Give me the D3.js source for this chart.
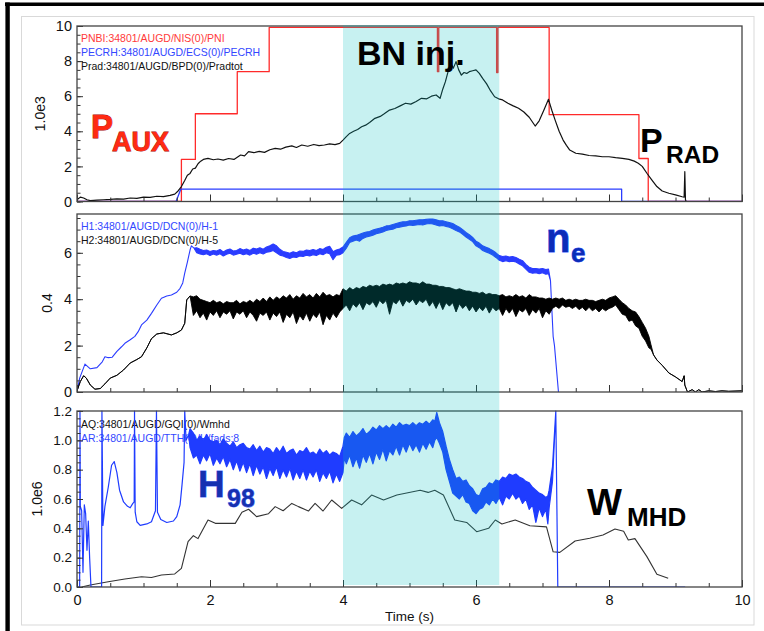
<!DOCTYPE html>
<html>
<head>
<meta charset="utf-8">
<script src="https://cdnjs.cloudflare.com/ajax/libs/d3/7.8.5/d3.min.js"></script>
<style>
  body { margin: 0; background: #fff; }
  svg { display: block; font-family: "Liberation Sans", Arial, Helvetica, sans-serif; }
</style>
</head>
<body>
<div id="chart"></div>
<script>
// time axis
var timeDomain = [0, 10];
var xTicks = [0, 2, 4, 6, 8, 10];
var bnWindow = [4.0, 6.35];

// panel 1 (1.0e3)
var p1Ticks = [0, 2, 4, 6, 8, 10];
var pnbi = [[0,0],[1.57,2.4],[1.78,5.0],[2.41,7.4],[2.89,9.92],[5.42,7.4],[5.44,9.92],[6.31,7.35],[6.33,9.92],[7.10,4.95],[8.45,2.45],[8.59,0],[10,0]];
var pecrh = [[0,0],[1.49,0],[1.56,0.7],[8.19,0.7],[8.19,0],[10,0]];
var prad = [[0,0.1],[0.05,0.25],[0.1,0.2],[0.15,0.1],[0.2,0.05],[0.3,0.08],[0.4,0.1],[0.5,0.12],[0.6,0.15],[0.7,0.14],[0.8,0.2],[0.9,0.18],[1.0,0.25],[1.1,0.24],[1.2,0.3],[1.3,0.28],[1.4,0.35],[1.47,0.42],[1.52,0.6],[1.57,0.85],[1.62,1.2],[1.66,1.5],[1.7,1.6],[1.74,1.85],[1.78,1.9],[1.82,2.15],[1.86,2.3],[1.9,2.4],[1.97,2.46],[2.05,2.38],[2.12,2.42],[2.2,2.36],[2.28,2.45],[2.36,2.4],[2.46,2.65],[2.52,2.6],[2.58,2.84],[2.66,2.78],[2.74,2.86],[2.82,2.8],[2.9,2.95],[2.98,3.03],[3.06,2.98],[3.14,3.1],[3.23,3.17],[3.3,3.08],[3.38,3.22],[3.47,3.15],[3.56,3.25],[3.64,3.18],[3.72,3.22],[3.8,3.28],[3.88,3.24],[3.95,3.31],[4.0,3.5],[4.05,3.7],[4.1,3.88],[4.16,4.0],[4.22,4.1],[4.28,4.26],[4.34,4.35],[4.4,4.5],[4.48,4.74],[4.56,4.85],[4.62,5.0],[4.7,5.21],[4.78,5.3],[4.86,5.45],[4.94,5.6],[5.02,5.55],[5.1,5.7],[5.18,5.88],[5.26,5.85],[5.33,6.0],[5.4,6.07],[5.46,5.88],[5.5,6.4],[5.54,6.83],[5.58,7.4],[5.62,7.87],[5.66,7.6],[5.7,7.97],[5.74,7.5],[5.78,7.2],[5.82,7.35],[5.86,7.3],[5.9,7.4],[5.95,7.45],[6.0,7.5],[6.05,7.3],[6.1,7.02],[6.16,6.7],[6.22,6.3],[6.28,5.97],[6.34,5.85],[6.4,5.79],[6.48,5.6],[6.56,5.45],[6.64,5.31],[6.72,5.1],[6.8,4.8],[6.89,4.3],[6.95,4.6],[7.02,5.2],[7.09,5.82],[7.14,5.2],[7.19,4.64],[7.25,4.0],[7.31,3.5],[7.36,3.2],[7.41,2.93],[7.5,2.75],[7.6,2.7],[7.7,2.62],[7.8,2.6],[7.9,2.55],[8.0,2.55],[8.1,2.5],[8.2,2.46],[8.3,2.4],[8.38,2.3],[8.44,2.18],[8.5,2.0],[8.57,1.61],[8.64,1.25],[8.72,0.85],[8.8,0.6],[8.9,0.47],[9.0,0.38],[9.1,0.27],[9.13,0.25],[9.14,1.7],[9.15,0.1],[9.16,0]];

// panel 2 (0.4) - [t, value] or [t, low, high] where the trace is noisy
var p2Ticks = [0, 2, 4, 6];
var h1 = [[0,0],[0.04,0.6],[0.12,1.2],[0.2,1.0],[0.3,1.05],[0.38,1.3],[0.42,1.52],[0.47,1.48],[0.53,1.5],[0.6,1.75],[0.67,1.95],[0.72,2.1],[0.8,2.25],[0.87,2.4],[0.92,2.6],[0.97,2.89],[1.05,3.1],[1.12,3.39],[1.2,3.75],[1.27,4.04],[1.35,4.14],[1.42,4.18],[1.5,4.3],[1.55,4.47],[1.59,4.7],[1.62,5.12],[1.66,5.6],[1.7,6.12],[1.72,6.3],[1.76,6.2],
  [1.8,6.0,6.22],[1.85,5.95,6.15],[1.9,5.92,6.1],[1.95,5.96,6.12],[2.0,5.88,6.06],[2.05,5.95,6.1],[2.1,5.9,6.08],[2.15,5.96,6.14],[2.2,5.86,6.04],[2.25,5.94,6.12],[2.3,5.98,6.16],[2.35,5.9,6.08],[2.4,5.94,6.1],[2.45,5.98,6.18],[2.5,5.92,6.12],[2.55,5.96,6.16],[2.6,5.9,6.1],[2.65,5.98,6.2],[2.7,5.94,6.16],[2.75,6.0,6.22],[2.8,5.95,6.15],[2.85,6.02,6.25],[2.9,6.05,6.3],[2.95,6.1,6.38],[3.0,6.0,6.3],[3.05,5.9,6.15],[3.1,5.86,6.06],[3.15,5.8,6.02],[3.2,5.76,5.98],[3.25,5.82,6.04],[3.3,5.8,6.0],[3.35,5.86,6.08],[3.4,5.84,6.06],[3.45,5.9,6.12],[3.5,5.86,6.1],[3.55,5.92,6.14],[3.6,5.88,6.1],[3.65,5.96,6.18],[3.7,5.92,6.14],[3.75,6.0,6.24],[3.8,5.96,6.28],[3.85,5.7,6.05],[3.9,5.9,6.12],[3.95,5.92,6.16],[4.0,6.0,6.25],[4.05,6.2,6.45],[4.1,6.45,6.65],[4.15,6.5,6.72],[4.2,6.55,6.75],[4.25,6.5,6.8],[4.3,6.62,6.85],[4.35,6.68,6.9],[4.4,6.72,6.92],[4.45,6.76,6.98],[4.5,6.82,7.02],[4.55,6.86,7.06],[4.6,6.9,7.1],[4.65,6.96,7.16],[4.7,7.0,7.18],[4.75,7.02,7.22],[4.8,7.08,7.26],[4.85,7.1,7.3],[4.9,7.14,7.34],[4.95,7.16,7.34],[5.0,7.2,7.38],[5.05,7.18,7.38],[5.1,7.2,7.4],[5.15,7.22,7.42],[5.2,7.2,7.42],[5.25,7.24,7.44],[5.3,7.26,7.46],[5.35,7.24,7.46],[5.4,7.2,7.42],[5.45,7.16,7.38],[5.5,7.18,7.38],[5.55,7.14,7.34],[5.6,7.1,7.3],[5.65,7.04,7.26],[5.7,6.96,7.18],[5.75,6.9,7.1],[5.8,6.8,7.0],[5.85,6.68,6.88],[5.9,6.58,6.78],[5.95,6.48,6.66],[6.0,6.3,6.5],[6.05,6.22,6.42],[6.1,6.1,6.3],[6.15,6.04,6.24],[6.2,5.98,6.18],[6.25,5.9,6.1],[6.3,5.8,6.0],[6.35,5.68,5.88],[6.4,5.62,5.84],[6.45,5.66,5.86],[6.5,5.62,5.82],[6.55,5.64,5.84],[6.6,5.6,5.8],[6.65,5.52,5.72],[6.7,5.44,5.66],[6.75,5.3,5.5],[6.8,5.16,5.38],[6.85,5.12,5.32],[6.9,5.14,5.32],[6.95,5.1,5.3],[7.0,5.14,5.32],[7.05,5.08,5.28],[7.09,5.1,5.3],
  [7.12,4.8],[7.16,2.4],[7.18,2.0],[7.24,0]];
var h5 = [[0,0.05],[0.05,0.45],[0.1,0.7],[0.14,0.6],[0.2,0.3],[0.27,0.12],[0.35,0.15],[0.42,0.35],[0.5,0.6],[0.6,0.72],[0.7,0.95],[0.8,1.25],[0.9,1.4],[0.97,1.52],[1.05,1.9],[1.12,2.3],[1.2,2.5],[1.3,2.55],[1.42,2.46],[1.5,2.55],[1.57,2.67],[1.62,2.96],[1.65,3.97],[1.7,4.14],
  [1.75,3.3,4.1],[1.8,3.5,4.15],[1.85,3.2,4.0],[1.9,3.4,3.95],[1.95,3.1,3.9],[2.0,3.45,3.85],[2.05,3.3,3.95],[2.1,3.5,3.85],[2.15,3.2,3.9],[2.2,3.45,3.8],[2.25,3.35,3.9],[2.3,3.5,3.85],[2.35,3.15,3.85],[2.4,3.45,3.95],[2.45,3.35,3.8],[2.5,3.5,3.9],[2.55,3.2,3.85],[2.6,3.45,3.95],[2.65,3.3,3.85],[2.7,3.05,4.0],[2.75,3.4,3.9],[2.8,3.3,4.05],[2.85,3.45,3.9],[2.9,3.1,4.1],[2.95,3.4,3.95],[3.0,3.25,4.1],[3.05,3.45,4.0],[3.1,3.0,4.15],[3.15,3.35,4.05],[3.2,3.2,4.2],[3.25,3.45,4.0],[3.3,2.95,4.15],[3.35,3.3,4.05],[3.4,3.1,4.25],[3.45,3.4,4.1],[3.5,3.05,4.2],[3.55,3.35,4.05],[3.6,3.2,4.25],[3.65,3.45,4.1],[3.7,2.9,4.3],[3.75,3.3,4.15],[3.8,3.1,4.2],[3.85,3.4,4.1],[3.9,3.2,4.2],[3.95,3.45,4.15],[4.0,3.6,4.45],[4.05,3.75,4.35],[4.1,3.5,4.5],[4.15,3.8,4.4],[4.2,3.65,4.5],[4.25,3.85,4.45],[4.3,3.55,4.55],[4.35,3.85,4.5],[4.4,3.75,4.6],[4.45,3.9,4.55],[4.5,3.65,4.6],[4.55,3.95,4.55],[4.6,3.8,4.65],[4.65,3.95,4.6],[4.7,3.35,4.65],[4.75,3.9,4.6],[4.8,3.8,4.7],[4.85,4.0,4.65],[4.9,3.7,4.7],[4.95,3.95,4.65],[5.0,3.85,4.75],[5.05,4.0,4.7],[5.1,3.75,4.7],[5.15,3.95,4.65],[5.2,3.85,4.75],[5.25,4.0,4.65],[5.3,3.7,4.65],[5.35,3.9,4.6],[5.4,3.6,4.6],[5.45,3.9,4.55],[5.5,3.55,4.55],[5.55,3.85,4.5],[5.6,3.7,4.5],[5.65,3.85,4.45],[5.7,3.45,4.4],[5.75,3.8,4.45],[5.8,3.6,4.4],[5.85,3.75,4.35],[5.9,3.5,4.35],[5.95,3.7,4.3],[6.0,3.45,4.3],[6.05,3.65,4.25],[6.1,3.5,4.3],[6.15,3.7,4.2],[6.2,3.4,4.25],[6.25,3.65,4.2],[6.3,3.5,4.2],[6.35,3.6,4.15],[6.4,3.3,4.2],[6.45,3.6,4.1],[6.5,3.4,4.15],[6.55,3.6,4.1],[6.6,3.25,4.2],[6.65,3.55,4.1],[6.7,3.45,4.15],[6.75,3.6,4.05],[6.8,3.3,4.2],[6.85,3.55,4.1],[6.9,3.4,4.1],[6.95,3.6,4.05],[7.0,3.2,4.05],[7.05,3.5,4.0],[7.1,3.35,4.05],[7.15,3.6,4.0],[7.2,3.7,4.05],[7.25,3.6,4.0],[7.3,3.75,4.05],[7.35,3.65,3.95],[7.4,3.7,4.0],[7.45,3.6,3.95],[7.5,3.7,4.0],[7.55,3.55,3.95],[7.6,3.65,3.95],[7.65,3.5,4.0],[7.7,3.65,3.95],[7.75,3.5,3.95],[7.8,3.6,3.9],[7.85,3.45,3.95],[7.9,3.6,4.0],[7.95,3.5,3.95],[8.0,3.6,4.05],[8.05,3.65,4.1],[8.1,3.75,4.15],[8.15,3.55,4.0],[8.2,3.35,3.85],[8.25,3.3,3.75],[8.3,3.05,3.6],[8.35,3.1,3.5],[8.4,2.85,3.45],[8.45,2.75,3.25],[8.5,2.4,3.0],[8.55,2.2,2.75],[8.6,1.9,2.4],[8.63,1.85,2.05],
  [8.67,1.6],[8.72,1.38],[8.8,1.15],[8.9,0.82],[9.0,0.65],[9.1,0.45],[9.13,0.7],[9.14,0.3],[9.18,0],[9.25,0.1],[9.3,0],[9.35,0.1],[9.4,0],[9.5,0.05],[9.6,0.02],[9.7,0.05],[9.8,0.03],[10,0.05]];

// panel 3 (1.0e6)
var p3Ticks = [0, 0.2, 0.4, 0.6, 0.8, 1.0, 1.2];
var wmhd = [[0.07,0],[0.2,0.014],[0.47,0.036],[0.72,0.055],[0.97,0.07],[1.12,0.065],[1.27,0.082],[1.47,0.089],[1.57,0.127],[1.67,0.31],[1.75,0.35],[1.82,0.33],[1.97,0.457],[2.08,0.434],[2.23,0.434],[2.38,0.434],[2.48,0.51],[2.58,0.53],[2.70,0.48],[2.88,0.5],[2.98,0.548],[3.10,0.52],[3.23,0.57],[3.33,0.548],[3.48,0.518],[3.58,0.57],[3.70,0.518],[3.83,0.593],[3.98,0.536],[4.13,0.593],[4.28,0.56],[4.43,0.627],[4.61,0.593],[4.81,0.627],[5.16,0.66],[5.28,0.645],[5.38,0.66],[5.51,0.627],[5.68,0.457],[5.86,0.44],[6.01,0.377],[6.19,0.4],[6.29,0.457],[6.39,0.43],[6.59,0.457],[6.81,0.418],[7.06,0.41],[7.16,0.24],[7.26,0.236],[7.49,0.314],[7.71,0.332],[7.91,0.355],[8.09,0.395],[8.22,0.38],[8.29,0.32],[8.39,0.33],[8.57,0.207],[8.72,0.087],[8.89,0.06]];
var h98 = [[0,0],[0.04,0],[0.045,1.2],[0.05,0.55],[0.07,0.52],[0.09,0.1],[0.11,0.56],[0.13,0.5],[0.15,0.25],[0.17,0.45],[0.19,0.2],[0.21,0],[0.37,0],[0.375,1.2],[0.39,0.42],[0.42,0.55],[0.47,0.68],[0.52,0.83],[0.56,0.855],[0.6,0.78],[0.64,0.66],[0.7,0.58],[0.76,0.55],[0.8,0.54],[0.84,0.57],[0.86,0.58],[0.865,1.2],[0.875,0.51],[0.9,0.445],[0.95,0.42],[1.05,0.43],[1.12,0.445],[1.18,0.52],[1.195,1.2],[1.21,0.51],[1.26,0.46],[1.35,0.44],[1.45,0.45],[1.5,0.48],[1.55,0.56],[1.58,0.7],[1.61,0.85],[1.62,1.2],[1.64,1.0],[1.68,1.04],
  [1.7,0.95,1.08],[1.75,0.88,1.05],[1.8,0.9,1.0],[1.85,0.84,1.03],[1.9,0.9,1.0],[1.95,0.86,1.04],[2.0,0.91,1.0],[2.05,0.83,0.99],[2.1,0.88,1.0],[2.15,0.84,0.97],[2.2,0.89,1.01],[2.25,0.82,0.98],[2.3,0.87,0.96],[2.35,0.8,0.99],[2.4,0.86,0.95],[2.45,0.79,0.97],[2.5,0.85,0.98],[2.55,0.78,0.95],[2.6,0.84,0.94],[2.65,0.76,0.97],[2.7,0.83,0.93],[2.75,0.77,0.96],[2.8,0.82,0.92],[2.85,0.74,0.95],[2.9,0.81,0.94],[2.95,0.76,0.91],[3.0,0.82,0.95],[3.05,0.74,0.92],[3.1,0.8,0.96],[3.15,0.75,0.91],[3.2,0.81,0.93],[3.25,0.73,0.94],[3.3,0.79,0.9],[3.35,0.74,0.93],[3.4,0.8,0.92],[3.45,0.73,0.95],[3.5,0.79,0.91],[3.55,0.75,0.92],[3.6,0.8,0.9],[3.65,0.72,0.94],[3.7,0.78,0.91],[3.75,0.74,0.93],[3.8,0.79,0.9],[3.85,0.71,0.92],[3.9,0.77,0.91],[3.95,0.72,0.89],[4.0,0.78,0.96],[4.02,0.88,1.02],[4.05,0.84,1.05],[4.1,0.9,1.02],[4.15,0.82,1.06],[4.2,0.88,1.03],[4.25,0.81,1.05],[4.3,0.9,1.08],[4.35,0.85,1.04],[4.4,0.91,1.06],[4.45,0.84,1.09],[4.5,0.92,1.07],[4.55,0.87,1.1],[4.6,0.94,1.08],[4.65,0.86,1.1],[4.7,0.93,1.08],[4.75,0.9,1.11],[4.8,0.96,1.09],[4.85,0.9,1.12],[4.9,0.97,1.1],[4.95,0.92,1.11],[5.0,0.98,1.1],[5.05,0.93,1.12],[5.1,0.97,1.1],[5.15,0.92,1.12],[5.2,0.98,1.11],[5.25,0.94,1.13],[5.3,0.99,1.11],[5.35,0.95,1.14],[5.38,1.0,1.13],[5.41,1.02,1.19],[5.45,0.98,1.12],[5.5,0.92,1.06],[5.55,0.8,0.96],[5.6,0.72,0.87],[5.65,0.64,0.8],[5.7,0.62,0.74],[5.75,0.6,0.75],[5.8,0.63,0.72],[5.85,0.58,0.73],[5.9,0.57,0.69],[5.95,0.52,0.67],[6.0,0.5,0.63],[6.05,0.53,0.62],[6.1,0.54,0.67],[6.15,0.58,0.68],[6.2,0.56,0.71],[6.25,0.6,0.7],[6.3,0.57,0.73],[6.35,0.61,0.72],[6.4,0.56,0.75],[6.45,0.62,0.74],[6.5,0.6,0.77],[6.55,0.64,0.76],[6.6,0.6,0.77],[6.65,0.62,0.75],[6.7,0.57,0.74],[6.75,0.6,0.72],[6.8,0.53,0.71],[6.85,0.56,0.68],[6.9,0.44,0.66],[6.95,0.54,0.64],[7.0,0.48,0.63],[7.05,0.53,0.61],[7.08,0.43,0.62],[7.1,0.54,0.66],[7.15,0.72,0.82],
  [7.2,1.2],[7.23,0],[9.14,0]];

(function(){

  var width = 764,
      height = 631,
      left = 77,
      right = 742;

  var svg = d3.select("#chart").append("svg")
      .attr("width", width)
      .attr("height", height);

  // page frame
  svg.append("rect")
      .attr("x", 21.5).attr("y", 16.5)
      .attr("width", 732.5).attr("height", 608.5)
      .attr("fill", "none").attr("stroke", "#d9d9d9");
  svg.append("line").attr("x1", 5).attr("x2", width).attr("y1", 4.3).attr("y2", 4.3)
      .attr("stroke", "#000").attr("stroke-width", 3.4);
  svg.append("line").attr("x1", 7.6).attr("x2", 7.6).attr("y1", 2.6).attr("y2", height)
      .attr("stroke", "#000").attr("stroke-width", 4.4);

  var x = d3.scaleLinear().domain(timeDomain).range([left, right]);

  var panels = [
    {top: 26, bottom: 201.5, domain: [0, 10], ticks: p1Ticks, minor: 0.5, fmt: d3.format("d"), font: 14.5,
     title: "1.0e3", titleX: 40,
     legend: [["PNBI:34801/AUGD/NIS(0)/PNI", "#ff3a3a"], ["PECRH:34801/AUGD/ECS(0)/PECRH", "#3347ff"], ["Prad:34801/AUGD/BPD(0)/Pradtot", "#111"]],
     legendY: 41.7,
     traces: [
       {data: pnbi, color: "#ff2a2a", curve: d3.curveStepAfter, w: 1.3},
       {data: pecrh, color: "#2a3cff", curve: d3.curveLinear, w: 1.3},
       {data: prad, color: "#111", curve: d3.curveLinear, w: 1.2}
     ]},
    {top: 214, bottom: 392, domain: [0, 178 / 23.2], ticks: p2Ticks, minor: 0.5, fmt: d3.format("d"), font: 14.5,
     title: "0.4", titleX: 47,
     legend: [["H1:34801/AUGD/DCN(0)/H-1", "#3347ff"], ["H2:34801/AUGD/DCN(0)/H-5", "#111"]],
     legendY: 230,
     traces: [
       {data: h1, color: "#2a3cff", curve: d3.curveLinear, w: 1.1},
       {data: h5, color: "#000", curve: d3.curveLinear, w: 0.9}
     ]},
    {top: 411, bottom: 587, domain: [0, 1.2], ticks: p3Ticks, minor: 0.05, fmt: d3.format(".1f"), font: 13.5,
     title: "1.0e6", titleX: 37,
     legend: [["AQ:34801/AUGD/GQI(0)/Wmhd", "#111"], ["AR:34801/AUGD/TTH(0)/H/fads:8", "#3347ff"]],
     legendY: 427.7,
     traces: [
       {data: wmhd, color: "#333", curve: d3.curveLinear, w: 1.1},
       {data: h98, color: "#1f3cff", curve: d3.curveLinear, w: 1.2}
     ]}
  ];

  panels.forEach(function(p, pi){

    var y = d3.scaleLinear().domain(p.domain).range([p.bottom, p.top]);
    var g = svg.append("g").attr("class", "panel");

    g.append("rect")
        .attr("x", left).attr("y", p.top)
        .attr("width", right - left).attr("height", p.bottom - p.top)
        .attr("fill", "#fff");

    var clipId = "clip" + pi;
    g.append("clipPath").attr("id", clipId)
      .append("rect")
        .attr("x", left).attr("y", p.top - 1)
        .attr("width", right - left).attr("height", p.bottom - p.top + 1);

    // legend text sits under the traces
    g.selectAll("text.legend")
      .data(p.legend)
      .enter().append("text")
        .attr("class", "legend")
        .attr("x", 81)
        .attr("y", function(d, i){ return p.legendY + i * 14.2; })
        .attr("fill", function(d){ return d[1]; })
        .style("font-size", "10.5px")
        .text(function(d){ return d[0]; });

    var plot = g.append("g").attr("clip-path", "url(#" + clipId + ")");

    p.traces.forEach(function(tr){
      var lo = function(d){ return y(d[1]); },
          hi = function(d){ return y(d.length > 2 ? d[2] : d[1]); };

      var hasBand = tr.data.some(function(d){ return d.length > 2; });

      if (hasBand) {
        // noisy trace: fill between the low and high envelope
        var area = d3.area()
            .x(function(d){ return x(d[0]); })
            .y0(lo)
            .y1(hi);
        plot.append("path")
            .datum(tr.data)
            .attr("d", area)
            .attr("fill", tr.color)
            .attr("stroke", tr.color)
            .attr("stroke-width", tr.w)
            .attr("stroke-linejoin", "round");
      } else {
        var line = d3.line()
            .x(function(d){ return x(d[0]); })
            .y(lo)
            .curve(tr.curve);
        plot.append("path")
            .datum(tr.data)
            .attr("d", line)
            .attr("fill", "none")
            .attr("stroke", tr.color)
            .attr("stroke-width", tr.w)
            .attr("stroke-linejoin", "round");
      }
    });

    // y axis, ticks inward
    var yAxis = d3.axisLeft(y)
        .tickValues(p.ticks)
        .tickFormat(p.fmt)
        .tickSize(-6)
        .tickPadding(5);
    var ya = g.append("g")
        .attr("transform", "translate(" + left + ",0)")
        .call(yAxis);
    ya.select(".domain").remove();
    ya.selectAll("text").style("font-size", p.font + "px").attr("fill", "#111");

    var yMinor = d3.axisLeft(y)
        .tickValues(d3.range(p.domain[0], p.domain[1] + 1e-9, p.minor))
        .tickFormat("")
        .tickSize(-3.5);
    g.append("g")
        .attr("transform", "translate(" + left + ",0)")
        .call(yMinor)
        .select(".domain").remove();

    // x axis
    var xAxis = d3.axisBottom(x)
        .tickValues(xTicks)
        .tickFormat(pi === 2 ? d3.format("d") : "")
        .tickSize(-7)
        .tickPadding(8);
    var xa = g.append("g")
        .attr("transform", "translate(0," + p.bottom + ")")
        .call(xAxis);
    xa.select(".domain").remove();
    xa.selectAll("text").style("font-size", "14.5px").attr("fill", "#111");

    var xMinor = d3.axisBottom(x)
        .tickValues(d3.range(0, 10.001, 0.5))
        .tickFormat("")
        .tickSize(-4);
    g.append("g")
        .attr("transform", "translate(0," + p.bottom + ")")
        .call(xMinor)
        .select(".domain").remove();

    g.selectAll(".tick line").attr("stroke", "#333");

    g.append("rect")
        .attr("x", left).attr("y", p.top)
        .attr("width", right - left).attr("height", p.bottom - p.top)
        .attr("fill", "none")
        .attr("stroke", "#444")
        .attr("stroke-width", 1.3);

    g.append("text")
        .attr("transform", "translate(" + p.titleX + "," + ((p.top + p.bottom) / 2) + ") rotate(-90)")
        .attr("text-anchor", "middle")
        .attr("dy", "0.35em")
        .style("font-size", "14px")
        .attr("fill", "#111")
        .text(p.title);
  });

  svg.append("text")
      .attr("x", (left + right) / 2)
      .attr("y", 621)
      .attr("text-anchor", "middle")
      .style("font-size", "13.5px")
      .attr("fill", "#111")
      .text("Time (s)");

  // BN injection window, laid over the traces
  svg.append("rect")
      .attr("x", x(bnWindow[0]))
      .attr("y", 25)
      .attr("width", x(bnWindow[1]) - x(bnWindow[0]))
      .attr("height", 585 - 25)
      .attr("fill", "rgb(0,190,190)")
      .attr("fill-opacity", 0.22);

  // annotations
  var labels = [
    {x: 91, y: 138, t: "P", size: 33, fill: "#ff2a12", stroke: "#a30000"},
    {x: 112, y: 151, t: "AUX", size: 27, fill: "#ff2a12", stroke: "#a30000"},
    {x: 357, y: 65, t: "BN inj.", size: 34, fill: "#000"},
    {x: 640, y: 152, t: "P", size: 34, fill: "#000"},
    {x: 666, y: 163, t: "RAD", size: 24.5, fill: "#000"},
    {x: 546, y: 252, t: "n", size: 40, fill: "#0b2cb8", stroke: "#3a5cff"},
    {x: 571, y: 262, t: "e", size: 26, fill: "#0b2cb8", stroke: "#3a5cff"},
    {x: 198, y: 497, t: "H", size: 37, fill: "#1631b0", stroke: "#5a78ff"},
    {x: 227, y: 507, t: "98", size: 25, fill: "#1631b0", stroke: "#5a78ff"},
    {x: 587, y: 515, t: "W", size: 37, fill: "#000"},
    {x: 627, y: 526, t: "MHD", size: 26, fill: "#000"}
  ];

  svg.selectAll("text.note")
    .data(labels)
    .enter().append("text")
      .attr("class", "note")
      .attr("x", function(d){ return d.x; })
      .attr("y", function(d){ return d.y; })
      .attr("fill", function(d){ return d.fill; })
      .attr("stroke", function(d){ return d.stroke || "none"; })
      .attr("stroke-width", 0.8)
      .attr("paint-order", "stroke")
      .style("font-size", function(d){ return d.size + "px"; })
      .style("font-weight", "bold")
      .text(function(d){ return d.t; });

})();
</script>
</body>
</html>
